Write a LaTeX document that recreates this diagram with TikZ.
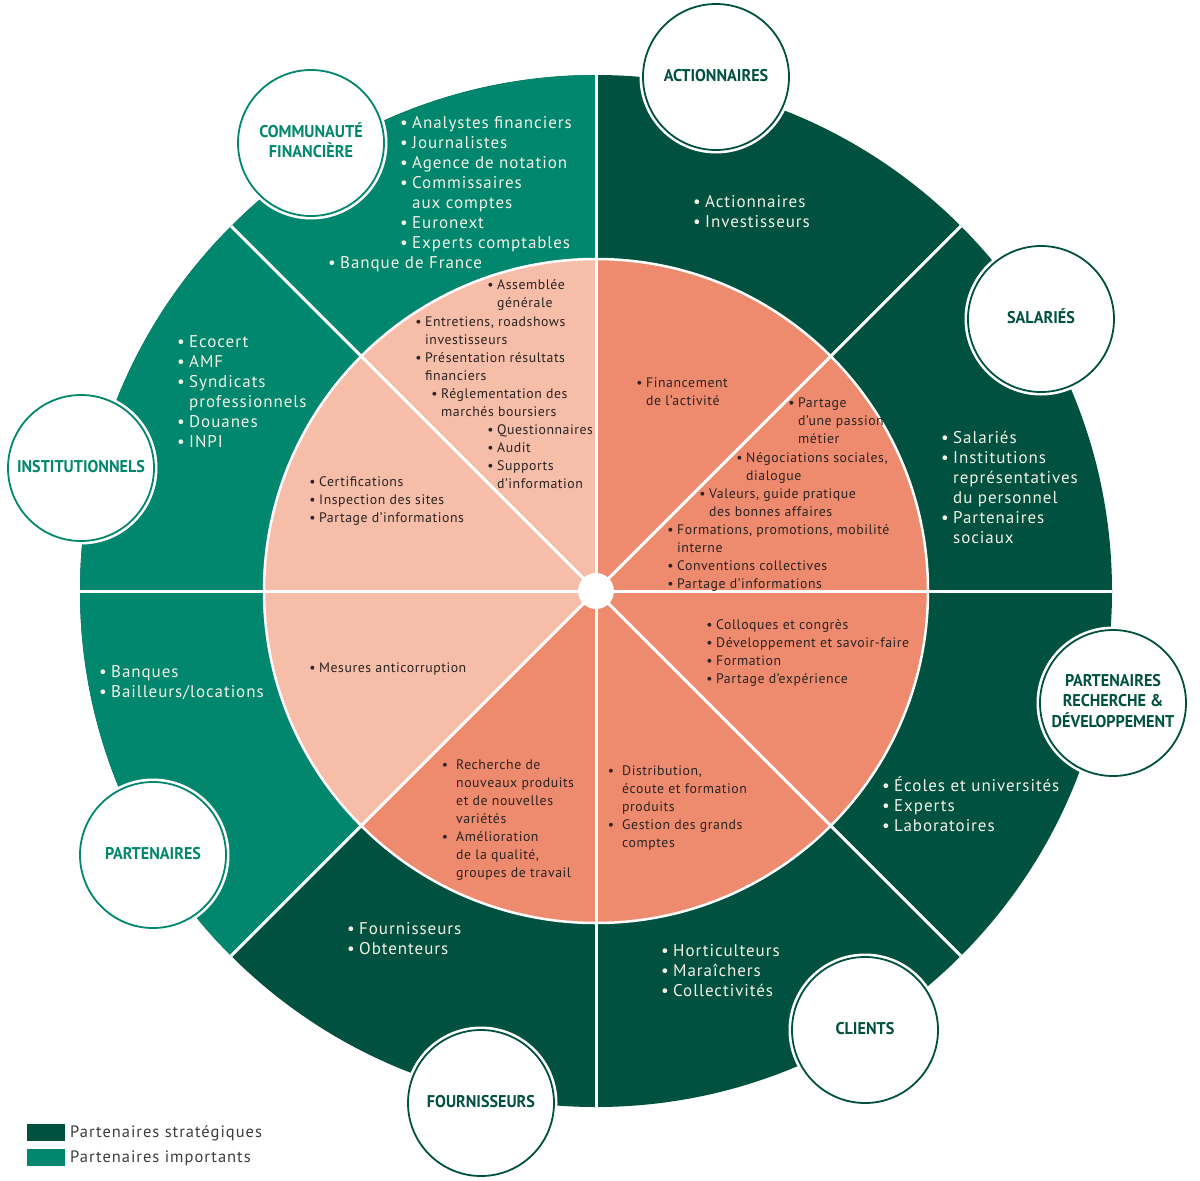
\documentclass[tikz,border=0pt]{standalone}
\usepackage{fontspec}
\setmainfont{PT Sans}
\newfontfamily\outf[LetterSpace=5.5]{PT Sans}
\newfontfamily\innf[LetterSpace=4]{PT Sans}
\newfontfamily\legf[LetterSpace=6]{PT Sans}
\definecolor{dkg}{HTML}{00513F}
\definecolor{mdg}{HTML}{00876D}
\definecolor{sal}{HTML}{EE8B6F}
\definecolor{lsal}{HTML}{F6BDA8}
\definecolor{cream}{HTML}{F4F1E6}
\definecolor{ink}{HTML}{2A2321}
\definecolor{leg}{HTML}{3C3C3C}
\newcommand\ofs{\outf\fontsize{17}{20}\selectfont}
\newcommand\ifs{\innf\fontsize{13.8}{18}\selectfont}
\newcommand\ob{\llap{\textbullet\hspace{4.5pt}}}
\newcommand\ib{\llap{\textbullet\hspace{3.5pt}}}
\newcommand\wb{\llap{\textbullet\hspace{8pt}}}
\newcommand\ofl{\rule{0pt}{17pt}}
\newcommand\ifl{\rule{0pt}{13.8pt}}
\newcommand\lab[1]{\scalebox{0.95}[1]{\begin{tabular}{@{}c@{}}#1\end{tabular}}}
\begin{document}
\begin{tikzpicture}[x=1pt,y=-1pt,
  otx/.style={text=cream, font=\ofs, align=left, inner sep=0pt, anchor=north west},
  itx/.style={text=ink, font=\ifs, align=left, inner sep=0pt, anchor=north west},
  lab/.style={circle, minimum size=146pt, inner sep=0pt, fill=white, line width=1.8pt,
    preaction={draw=white, line width=7pt},
    font=\fontsize{17}{20}\selectfont\bfseries},
  strat/.style={lab, draw=dkg, text=dkg},
  impt/.style={lab, draw=mdg, text=mdg},
  legsq/.style={minimum width=38pt, minimum height=17pt, inner sep=0pt, anchor=north west},
  legtx/.style={anchor=west, text=leg, font=\legf\fontsize{16.5}{18}\selectfont, inner sep=0pt}]
\useasboundingbox (0,0) rectangle (1200,1181);
\coordinate (C) at (596,591);
% outer ring
\fill[dkg] (C) circle (516);
\fill[mdg] (C) -- ++(135:516) arc[start angle=135, end angle=270, radius=516] -- cycle;
% inner disc
\fill[sal] (C) circle (332);
\fill[lsal] (C) -- ++(135:332) arc[start angle=135, end angle=270, radius=332] -- cycle;
\draw[white, line width=2.5pt] (C) circle (332);
\foreach \a in {0,45,...,315} \draw[white, line width=3pt] (C) -- ++(\a:516);
\fill[white] (C) circle (18);

% label circles
\node[strat] (actionnaires) at (716,77) {\lab{ACTIONNAIRES}};
\node[impt] (communaute) at (311,143) {\lab{COMMUNAUTÉ\\FINANCIÈRE}};
\node[strat] (salaries) at (1041,319) {\lab{SALARIÉS}};
\node[impt] (institutionnels) at (81,468) {\lab{INSTITUTIONNELS}};
\node[strat] (prd) at (1113,703) {\lab{PARTENAIRES\\RECHERCHE \&\\DÉVELOPPEMENT}};
\node[impt] (partenaires) at (153,855) {\lab{PARTENAIRES}};
\node[strat] (fournisseurs) at (481,1103) {\lab{FOURNISSEURS}};
\node[strat] (clients) at (865,1030) {\lab{CLIENTS}};

% outer texts
\node[otx] (o1) at (412,111) {\ofl\ob Analystes financiers\\\ob Journalistes\\\ob Agence de notation\\\ob Commissaires\\aux comptes\\\ob Euronext\\\ob Experts comptables};
\node[otx] (o2) at (340,251) {\ofl\ob Banque de France};
\node[otx] (o3) at (705,190) {\ofl\ob Actionnaires\\\ob Investisseurs};
\node[otx] (o4) at (953,426) {\ofl\ob Salariés\\\ob Institutions\\représentatives\\du personnel\\\ob Partenaires\\sociaux};
\node[otx] (o5) at (189,330) {\ofl\ob Ecocert\\\ob AMF\\\ob Syndicats\\professionnels\\\ob Douanes\\\ob INPI};
\node[otx] (o6) at (111,660) {\ofl\ob Banques\\\ob Bailleurs/locations};
\node[otx] (o7) at (359,917) {\ofl\ob Fournisseurs\\\ob Obtenteurs};
\node[otx] (o8) at (673,939) {\ofl\ob Horticulteurs\\\ob Maraîchers\\\ob Collectivités};
\node[otx] (o9) at (894,774) {\ofl\ob Écoles et universités\\\ob Experts\\\ob Laboratoires};

% inner texts
\node[itx] (i1) at (497,275) {\ifl\ib Assemblée\\générale};
\node[itx] (i2) at (425,312) {\ifl\ib Entretiens, roadshows\\investisseurs\\\ib Présentation résultats\\financiers};
\node[itx] (i3) at (441,384) {\ifl\ib Réglementation des\\marchés boursiers};
\node[itx] (i4) at (497,420) {\ifl\ib Questionnaires\\\ib Audit\\\ib Supports\\d’information};
\node[itx] (i5) at (319,472) {\ifl\ib Certifications\\\ib Inspection des sites\\\ib Partage d’informations};
\node[itx] (i6) at (646,373) {\ifl\ib Financement\\de l’activité};
\node[itx] (i7) at (798,393) {\ifl\ib Partage\\d’une passion\\métier};
\node[itx] (i8) at (746,448) {\ifl\ib Négociations sociales,\\dialogue};
\node[itx] (i9) at (709,484) {\ifl\ib Valeurs, guide pratique\\des bonnes affaires};
\node[itx] (i10) at (677,520) {\ifl\ib Formations, promotions, mobilité\\interne\\\ib Conventions collectives\\\ib Partage d’informations};
\node[itx] (i11) at (716,615) {\ifl\ib Colloques et congrès\\\ib Développement et savoir-faire\\\ib Formation\\\ib Partage d’expérience};
\node[itx] (i12) at (622,761) {\ifl\wb Distribution,\\écoute et formation\\produits\\\wb Gestion des grands\\comptes};
\node[itx] (i13) at (456,755) {\ifl\wb Recherche de\\nouveaux produits\\et de nouvelles\\variétés\\\wb Amélioration\\de la qualité,\\groupes de travail};
\node[itx] (i14) at (319,658) {\ifl\ib Mesures anticorruption};

% legend
\node[legsq, fill=dkg] (lg1) at (27,1124) {};
\node[legsq, fill=mdg] (lg2) at (27,1149) {};
\node[legtx] (lt1) at (70,1133) {Partenaires stratégiques};
\node[legtx] (lt2) at (70,1158) {Partenaires importants};
\end{tikzpicture}
\end{document}
